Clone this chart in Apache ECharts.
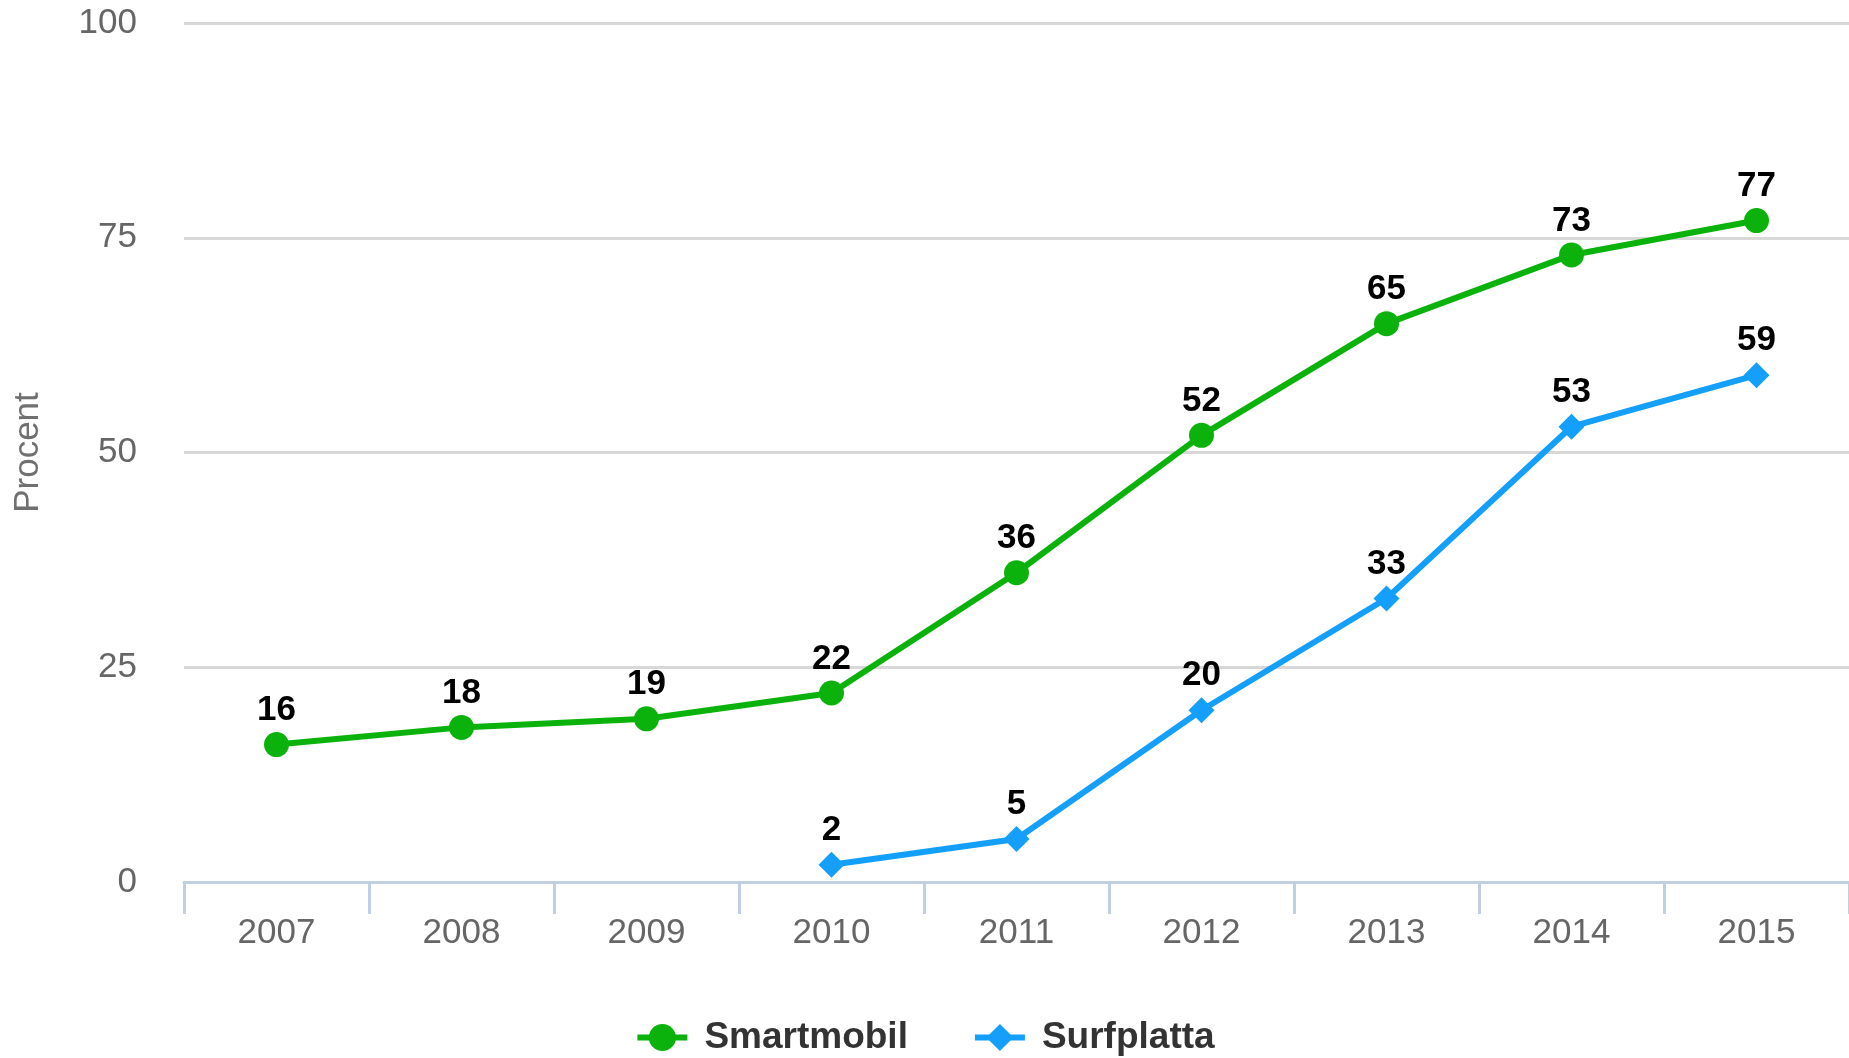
<!DOCTYPE html>
<html lang="sv">

<head>
  <meta charset="UTF-8">
  <title>Smartmobil och surfplatta</title>
  <script src="https://cdn.jsdelivr.net/npm/echarts@6/dist/echarts.min.js"></script>
  <style>
    html, body { margin: 0; padding: 0; background: #fff; }
    #chart { width: 1849px; height: 1058px; }
  </style>
</head>

<body>
  <div id="chart"></div>
  <script>
    // data
    const years = ['2007', '2008', '2009', '2010', '2011', '2012', '2013', '2014', '2015'];
    const smartmobil = [16, 18, 19, 22, 36, 52, 65, 73, 77];
    const surfplatta = ['-', '-', '-', 2, 5, 20, 33, 53, 59];
    const yTicks = [0, 25, 50, 75, 100];

    const font = '"Liberation Sans", Arial, sans-serif';
    const green = '#0cb20c';
    const blue = '#149ffa';

    let myChart = echarts.init(document.getElementById('chart'));

    function lineSeries(name, data, color, symbol, size) {
      return {
        name: name,
        type: 'line',
        data: data,
        symbol: symbol,
        symbolSize: size,
        lineStyle: { color: color, width: 6 },
        itemStyle: { color: color },
        label: {
          show: true,
          position: 'top',
          distance: 4,
          color: '#000',
          fontFamily: font,
          fontWeight: 'bold',
          fontSize: 35
        },
        emphasis: { disabled: true }
      };
    }

    let option = {
      animation: false,
      grid: {
        left: 184,
        right: 0,
        top: 23,
        bottom: 176,
        outerBoundsMode: 'none'
      },
      legend: {
        left: 'center',
        top: 1014,
        itemWidth: 50,
        itemHeight: 34,
        itemGap: 64,
        lineStyle: { width: 6 },
        textStyle: {
          fontFamily: font,
          fontWeight: 'bold',
          fontSize: 37,
          color: '#333',
          padding: [0, 0, 0, 12]
        }
      },
      xAxis: {
        type: 'category',
        data: years,
        boundaryGap: true,
        axisLine: { lineStyle: { color: '#c0d0e0', width: 3 } },
        axisTick: { show: true, length: 32, interval: 0, lineStyle: { color: '#c0d0e0', width: 3 } },
        axisLabel: {
          interval: 0,
          margin: 34,
          color: '#666',
          fontFamily: font,
          fontSize: 35
        },
        splitLine: { show: false }
      },
      yAxis: {
        type: 'value',
        min: yTicks[0],
        max: yTicks[yTicks.length - 1],
        interval: 25,
        name: 'Procent',
        nameLocation: 'middle',
        nameRotate: 90,
        nameGap: 138,
        nameTextStyle: { color: '#707070', fontFamily: font, fontSize: 35 },
        axisLine: { show: false },
        axisTick: { show: false },
        axisLabel: {
          margin: 47,
          color: '#666',
          fontFamily: font,
          fontSize: 35
        },
        splitLine: { lineStyle: { color: '#d8d8d8', width: 3 } }
      },
      series: [
        lineSeries('Smartmobil', smartmobil, green, 'circle', 25),
        lineSeries('Surfplatta', surfplatta, blue, 'diamond', 26)
      ]
    };

    myChart.setOption(option);
  </script>
</body>

</html>
